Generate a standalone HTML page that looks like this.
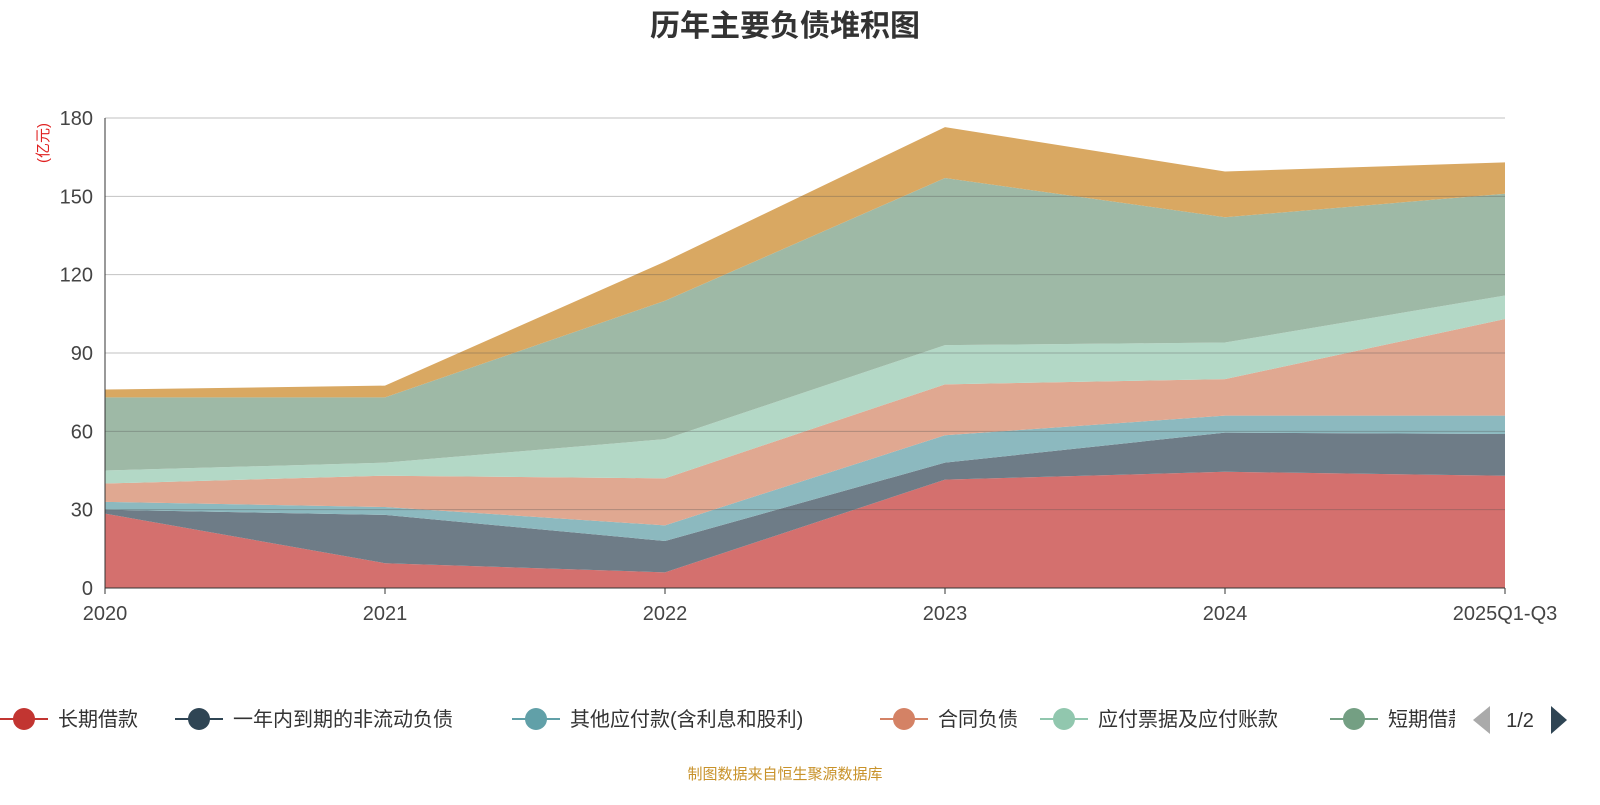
<!DOCTYPE html>
<html><head><meta charset="utf-8"><style>
body{margin:0;background:#fff;font-family:"Liberation Sans","Noto Sans CJK SC",sans-serif}
svg text{font-family:"Liberation Sans","Noto Sans CJK SC",sans-serif}
</style></head><body>
<svg id="c" width="1600" height="800">
<text x="785" y="36" text-anchor="middle" font-size="30" font-weight="bold" fill="#333">历年主要负债堆积图</text>
<text transform="translate(48,143) rotate(-90)" text-anchor="middle" font-size="15" fill="#e02020">(亿元)</text>
<g id="areas"></g><g id="grid"></g><g id="axes"></g>
<g id="legend"></g>
<text x="785" y="779" text-anchor="middle" font-size="15" fill="#c8922a">制图数据来自恒生聚源数据库</text>
</svg>
<script>
const categories=["2020","2021","2022","2023","2024","2025Q1-Q3"];
const seriesNames=["长期借款","一年内到期的非流动负债","其他应付款(含利息和股利)","合同负债","应付票据及应付账款","短期借款","应付债券"];
const s1=[28.5,9.5,6,41.5,44.5,43];
const s2=[1.5,18.5,12,6.5,15,16];
const s3=[3,3,6,10.5,6.5,7];
const s4=[7,12,18,19.5,14,37];
const s5=[5,5,15,15,14,9];
const s6=[28,25,53,64,48,39];
const s7=[3,4.5,15,19.5,17.5,12];
const yTicks=[0,30,60,90,120,150,180];
const series=[s1,s2,s3,s4,s5,s6,s7];
const fills=["#d4706e","#6e7c87","#8cb9bf","#e0a891","#b3d8c6","#9eb9a6","#d9a862"];
const lineCols=["#c23531","#2f4554","#61a0a8","#d48265","#91c7ae","#749f83","#ca8622"];
const X0=105,X1=1505,Y0=588,Y1=118;
const xs=i=>X0+i*(X1-X0)/(categories.length-1);
const ys=v=>Y0-v*(Y0-Y1)/180;
const NS="http://www.w3.org/2000/svg";
function mk(t,a,p){const e=document.createElementNS(NS,t);for(const k in a)e.setAttribute(k,a[k]);p.appendChild(e);return e;}
const grid=document.getElementById('grid'),areas=document.getElementById('areas'),axes=document.getElementById('axes'),leg=document.getElementById('legend');
yTicks.forEach(v=>{
 const l=mk('line',{x1:X0,x2:X1,y1:ys(v),y2:ys(v),stroke:v?"rgba(80,80,80,0.35)":"#333","stroke-width":1},grid);
 
 
 const t=mk('text',{x:X0-12,y:ys(v)+7,"text-anchor":"end","font-size":20,fill:"#444"},axes);t.textContent=v;
 
 
});
let cum=categories.map(()=>0);
series.forEach((s,k)=>{
 const top=cum.map((c,i)=>c+s[i]);
 let d="M"+top.map((v,i)=>xs(i)+","+ys(v)).join("L");
 for(let i=categories.length-1;i>=0;i--)d+="L"+xs(i)+","+ys(cum[i]);
 const p=mk('path',{d:d+"Z",fill:fills[k],stroke:"none"},areas);
 
 
 cum=top;
});
mk('line',{x1:X0,x2:X0,y1:Y1,y2:Y0,stroke:"#333"},axes);
mk('line',{x1:X0,x2:X1,y1:Y0,y2:Y0,stroke:"#333"},axes);
categories.forEach((c,i)=>{
 mk('line',{x1:xs(i),x2:xs(i),y1:Y0,y2:Y0+6,stroke:"#333"},axes);
 const t=mk('text',{x:xs(i),y:Y0+32,"text-anchor":"middle","font-size":20,fill:"#444"},axes);t.textContent=c;
 
 
});
const lx=[0,175,512,880,1040,1330];
for(let k=0;k<6;k++){
 const g=mk('g',{},leg);
 
 
 mk('line',{x1:lx[k],x2:lx[k]+48,y1:719,y2:719,stroke:lineCols[k],"stroke-width":2},g);
 mk('circle',{cx:lx[k]+24,cy:719,r:11,fill:lineCols[k]},g);
 const t=mk('text',{x:lx[k]+58,y:726,"font-size":20,fill:"#333"},g);t.textContent=seriesNames[k];
}
mk('rect',{x:1455,y:700,width:15,height:40,fill:"#fff"},leg);
const pa=mk('path',{d:"M1490,706L1473,720L1490,734Z",fill:"#aaa"},leg);


const pt=mk('text',{x:1520,y:727,"text-anchor":"middle","font-size":20,fill:"#333"},leg);pt.textContent="1/2";
const na=mk('path',{d:"M1551,706L1567,720L1551,734Z",fill:"#2f4554"},leg);


</script>
</body></html>
